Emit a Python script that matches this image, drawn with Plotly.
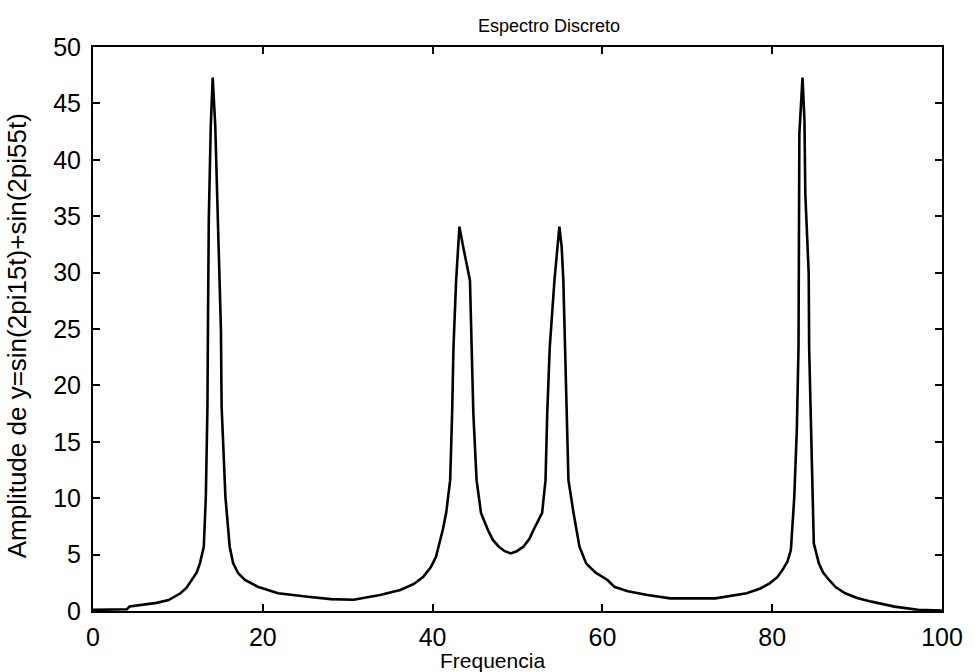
import plotly.graph_objects as go

# Spectrum (frequency, amplitude)
freq = [0, 2, 4, 4.3, 5.8, 7.5, 8.9, 10.3, 11.0, 11.65, 12.2, 12.6, 13.05, 13.29, 13.48, 13.55, 13.64,
        13.87, 14.1, 14.4, 14.8, 15.0, 15.07, 15.15, 15.6, 16.1, 16.5, 17.1, 17.9, 19.4,
        21.8, 25.3, 28.0, 30.7, 33.8, 36.2, 37.8, 38.9, 39.8, 40.4, 41.2, 41.6, 42.07, 42.3,
        42.46, 42.77, 43.16, 43.6, 44.4, 44.6, 44.8, 45.18, 45.7, 46.5, 47.1, 47.8, 48.5, 49.2,
        49.9, 50.7, 51.4, 51.9, 52.9, 53.3, 53.5, 53.8, 54.35, 54.93, 55.2, 55.4, 55.6, 55.8,
        56.0, 56.6, 57.3, 58.1, 59.2, 60.6, 61.4, 63.0, 65.3, 68.0, 73.3, 77.0, 78.6, 79.7, 80.6, 81.2,
        81.8, 82.2, 82.6, 82.9, 83.1, 83.15, 83.2, 83.57, 83.8, 83.9, 84.3, 84.35, 84.6,
        84.8, 84.9, 85.5, 86.0, 86.7, 87.5, 88.6, 90.0, 91.7, 94.4, 97.2, 100]
amplitude = [0.1, 0.1, 0.15, 0.4, 0.53, 0.72, 0.97, 1.57, 2.05, 2.75, 3.4, 4.25, 5.7, 10.1, 18.1, 26.4, 34.7,
             43.0, 47.3, 43.0, 31.4, 26.4, 24.9, 18.1, 10.1, 5.7, 4.25, 3.35, 2.75, 2.15,
             1.57, 1.27, 1.05, 1.0, 1.42, 1.86, 2.4, 3.04, 3.9, 4.8, 7.2, 8.7, 11.6, 17.5,
             23.4, 29.3, 34.07, 32.3, 29.3, 23.4, 17.5, 11.6, 8.7, 7.2, 6.3, 5.7, 5.3, 5.1,
             5.3, 5.7, 6.4, 7.2, 8.7, 11.6, 17.5, 23.4, 29.3, 34.07, 32.3, 29.3, 23.4, 17.5,
             11.6, 8.7, 5.7, 4.2, 3.4, 2.75, 2.15, 1.75, 1.42, 1.12, 1.12, 1.57, 2.0, 2.45, 3.0, 3.63,
             4.4, 5.4, 10.1, 16.05, 23.4, 32.9, 42.3, 47.3, 43.5, 37.0, 29.9, 23.4, 16.05,
             10.1, 6.0, 4.2, 3.4, 2.75, 2.1, 1.57, 1.15, 0.83, 0.39, 0.1, 0.05]

x_ticks = [0, 20, 40, 60, 80, 100]
y_ticks = [0, 5, 10, 15, 20, 25, 30, 35, 40, 45, 50]

title_text = "Espectro Discreto"
x_label = "Frequencia"
y_label = "Amplitude de y=sin(2pi15t)+sin(2pi55t)"

FONT = "Liberation Sans, Arial, sans-serif"

fig = go.Figure()
fig.add_trace(go.Scatter(x=freq, y=amplitude, mode="lines",
                         line=dict(color="black", width=2.6), showlegend=False))

axis_common = dict(showline=True, linecolor="black", linewidth=2, mirror="allticks",
                   ticks="inside", ticklen=7, tickwidth=2, tickcolor="black",
                   showgrid=False, zeroline=False,
                   tickfont=dict(family=FONT, size=25, color="black"))

fig.update_xaxes(range=[0, 100], tickvals=x_ticks, ticktext=[str(v) for v in x_ticks],
                 ticklabelstandoff=3, **axis_common)
fig.update_yaxes(range=[0, 50], tickvals=y_ticks, ticktext=[str(v) for v in y_ticks],
                 ticklabelstandoff=5, **axis_common)

fig.update_layout(
    width=975, height=672,
    margin=dict(l=93, r=24, t=47, b=61),
    paper_bgcolor="white", plot_bgcolor="white",
    annotations=[
        dict(text=title_text, xref="paper", yref="paper", x=0.537, y=1.0, yshift=21,
             xanchor="center", yanchor="middle", showarrow=False,
             font=dict(family=FONT, size=18, color="black")),
        dict(text=x_label, xref="paper", yref="paper", x=0.471, y=0, yshift=-49,
             xanchor="center", yanchor="middle", showarrow=False,
             font=dict(family=FONT, size=21, color="black")),
        dict(text=y_label, xref="paper", yref="paper", x=0, xshift=-76, y=0.487,
             xanchor="center", yanchor="middle", showarrow=False, textangle=-90,
             font=dict(family=FONT, size=26, color="black")),
    ],
)

fig.write_html("out.html")
